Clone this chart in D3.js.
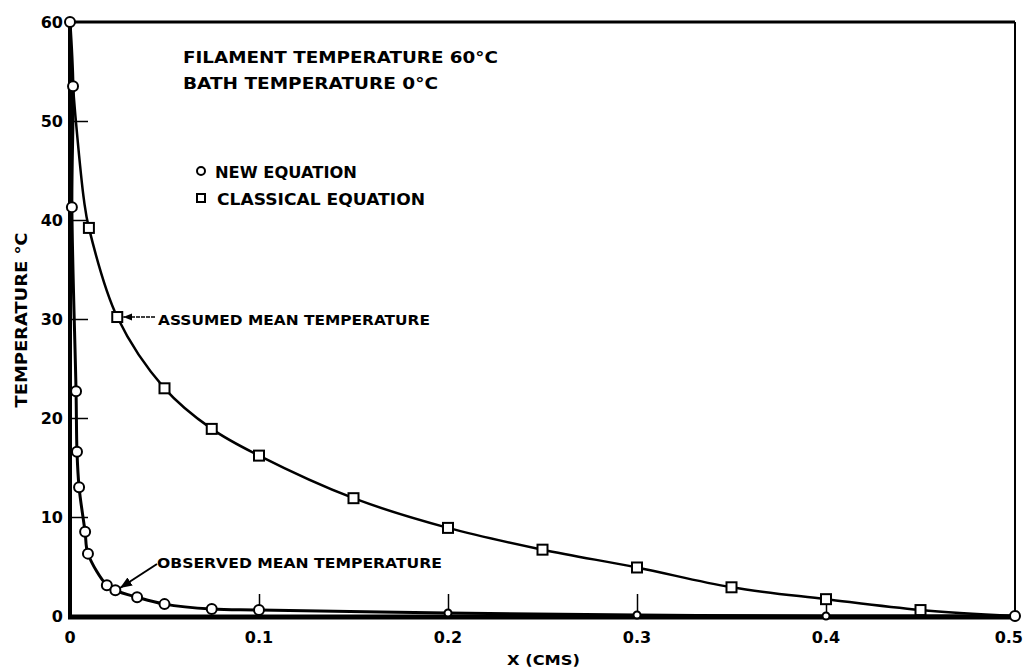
<!DOCTYPE html>
<html>
<head>
<meta charset="utf-8">
<script src="https://cdn.jsdelivr.net/npm/d3@7"></script>
<style>
  body { margin: 0; background: #fff; }
  text { font-family: "DejaVu Sans", "Liberation Sans", sans-serif; font-weight: bold; fill: #000; }
</style>
</head>
<body>
<div id="chart"></div>
<script>
// Data
// new equation (circles)
var newX = [0, 0.0016, 0.001, 0.0032, 0.0037, 0.0048, 0.008, 0.0095, 0.0195, 0.024, 0.0355, 0.05, 0.075, 0.1, 0.2, 0.3, 0.4, 0.5];
var newT = [60, 53.5, 41.3, 22.7, 16.6, 13.0, 8.5, 6.3, 3.1, 2.6, 1.9, 1.2, 0.7, 0.6, 0.3, 0.1, 0, 0];

// classical equation (squares)
var classicalX = [0.01, 0.025, 0.05, 0.075, 0.1, 0.15, 0.2, 0.25, 0.3, 0.35, 0.4, 0.45];
var classicalT = [39.2, 30.2, 23.0, 18.9, 16.2, 11.9, 8.9, 6.7, 4.9, 2.9, 1.7, 0.6];
// curve ends without a marker
var classicalLeadX = [0.0016, 0.0032, 0.0074];
var classicalLeadT = [53.5, 49.8, 42.0];
var classicalEndX = [0.5];
var classicalEndT = [0];

var xTicks = [0.1, 0.2, 0.3, 0.4];
var xTickLabels = ["0.1", "0.2", "0.3", "0.4", "0.5"];
var yTicks = [10, 20, 30, 40, 50];
var yTickLabels = ["0", "10", "20", "30", "40", "50", "60"];

var svgWidth = 1024;
var svgHeight = 670;

var svg = d3.select("#chart")
  .append("svg")
  .attr("width", svgWidth)
  .attr("height", svgHeight);

// scales: origin at (70, 616), x=0.5 at 1015, T=60 at 22
var x = d3.scaleLinear().domain([0, 0.5]).range([70, 1015]);
var y = d3.scaleLinear().domain([0, 60]).range([616, 22]);

// frame: thick left and bottom, lighter top and right
svg.append("line")
  .attr("x1", x(0)).attr("x2", x(0.5))
  .attr("y1", y(60)).attr("y2", y(60))
  .attr("stroke", "#000").attr("stroke-width", 3);
svg.append("line")
  .attr("x1", x(0.5)).attr("x2", x(0.5))
  .attr("y1", y(60)).attr("y2", y(0))
  .attr("stroke", "#000").attr("stroke-width", 2);

// inner ticks (y axis) and upward ticks (x axis)
var leftAxis = d3.axisRight(y).tickValues(yTicks).tickSize(18).tickFormat("");
svg.append("g")
  .attr("transform", `translate(${x(0)},0)`)
  .call(leftAxis)
  .call(g => g.select(".domain").remove())
  .call(g => g.selectAll(".tick line").attr("stroke-width", 1.5));

var bottomAxis = d3.axisTop(x).tickValues(xTicks).tickSize(22).tickFormat("");
svg.append("g")
  .attr("transform", `translate(0,${y(0)})`)
  .call(bottomAxis)
  .call(g => g.select(".domain").remove())
  .call(g => g.selectAll(".tick line").attr("stroke-width", 1.5));

svg.append("line")
  .attr("x1", x(0)).attr("x2", x(0))
  .attr("y1", y(60) - 1).attr("y2", y(0) + 2)
  .attr("stroke", "#000").attr("stroke-width", 4);
svg.append("line")
  .attr("x1", x(0) - 2).attr("x2", x(0.5))
  .attr("y1", y(0) + 1).attr("y2", y(0) + 1)
  .attr("stroke", "#000").attr("stroke-width", 5);

// tick labels
var yLabelVals = [0, 10, 20, 30, 40, 50, 60];
svg.selectAll(".ylab")
  .data(yLabelVals)
  .enter()
  .append("text")
  .attr("class", "ylab")
  .attr("x", 63)
  .attr("y", d => y(d) + 6)
  .attr("text-anchor", "end")
  .attr("font-size", "16px")
  .text((d, i) => yTickLabels[i]);

var xLabelVals = [0, 0.1, 0.2, 0.3, 0.4, 0.5];
svg.selectAll(".xlab")
  .data(xLabelVals)
  .enter()
  .append("text")
  .attr("class", "xlab")
  .attr("x", d => d === 0.5 ? 1023 : x(d))
  .attr("y", 643)
  .attr("text-anchor", d => d === 0.5 ? "end" : "middle")
  .attr("font-size", "16px")
  .text((d, i) => i === 0 ? "0" : xTickLabels[i - 1]);

// axis titles
svg.append("text")
  .attr("transform", "translate(27,320) rotate(-90)")
  .attr("text-anchor", "middle")
  .attr("font-size", "15px")
  .attr("textLength", 175)
  .attr("lengthAdjust", "spacingAndGlyphs")
  .text("TEMPERATURE °C");

svg.append("text")
  .attr("x", 507)
  .attr("y", 665)
  .attr("font-size", "14px")
  .attr("textLength", 73)
  .attr("lengthAdjust", "spacingAndGlyphs")
  .text("X (CMS)");

// curves
var line = d3.line()
  .x(d => x(d[0]))
  .y(d => y(d[1]))
  .curve(d3.curveCatmullRom.alpha(0.5));

var newData = newX.map((d, i) => [d, newT[i]]);
var classicalData = classicalX.map((d, i) => [d, classicalT[i]]);
var classicalLine = classicalLeadX.map((d, i) => [d, classicalLeadT[i]])
  .concat(classicalData)
  .concat(classicalEndX.map((d, i) => [d, classicalEndT[i]]));

svg.append("path")
  .datum(classicalLine)
  .attr("d", line)
  .attr("fill", "none")
  .attr("stroke", "#000")
  .attr("stroke-width", 2.5);

svg.append("path")
  .datum(newData)
  .attr("d", line)
  .attr("fill", "none")
  .attr("stroke", "#000")
  .attr("stroke-width", 3);

// markers
svg.selectAll(".sq")
  .data(classicalData)
  .enter()
  .append("rect")
  .attr("class", "sq")
  .attr("x", d => x(d[0]) - 5)
  .attr("y", d => y(d[1]) - 5)
  .attr("width", 10)
  .attr("height", 10)
  .attr("fill", "#fff")
  .attr("stroke", "#000")
  .attr("stroke-width", 2);

svg.selectAll(".dot")
  .data(newData)
  .enter()
  .append("circle")
  .attr("class", "dot")
  .attr("cx", d => x(d[0]))
  .attr("cy", d => y(d[1]))
  .attr("r", (d, i) => (i >= 14 && i <= 16) ? 3.5 : 5)
  .attr("fill", "#fff")
  .attr("stroke", "#000")
  .attr("stroke-width", 2);

// notes
svg.append("text")
  .attr("x", 183).attr("y", 63)
  .attr("font-size", "15px")
  .attr("textLength", 315)
  .attr("lengthAdjust", "spacingAndGlyphs")
  .text("FILAMENT TEMPERATURE 60°C");

svg.append("text")
  .attr("x", 183).attr("y", 89)
  .attr("font-size", "15px")
  .attr("textLength", 255)
  .attr("lengthAdjust", "spacingAndGlyphs")
  .text("BATH TEMPERATURE 0°C");

// legend
svg.append("circle")
  .attr("cx", 201).attr("cy", 171).attr("r", 4)
  .attr("fill", "#fff").attr("stroke", "#000").attr("stroke-width", 2);
svg.append("text")
  .attr("x", 215).attr("y", 178)
  .attr("font-size", "15px")
  .attr("textLength", 142)
  .attr("lengthAdjust", "spacingAndGlyphs")
  .text("NEW EQUATION");

svg.append("rect")
  .attr("x", 197).attr("y", 194).attr("width", 8).attr("height", 8)
  .attr("fill", "#fff").attr("stroke", "#000").attr("stroke-width", 2);
svg.append("text")
  .attr("x", 217).attr("y", 205)
  .attr("font-size", "15px")
  .attr("textLength", 208)
  .attr("lengthAdjust", "spacingAndGlyphs")
  .text("CLASSICAL EQUATION");

// annotation arrows
svg.append("defs").append("marker")
  .attr("id", "head")
  .attr("viewBox", "0 0 10 10")
  .attr("refX", 10).attr("refY", 5)
  .attr("markerWidth", 6).attr("markerHeight", 6)
  .attr("orient", "auto")
  .append("path")
  .attr("d", "M0,1 L10,5 L0,9 Z")
  .attr("fill", "#000");

svg.append("line")
  .attr("x1", 155).attr("y1", y(30.2))
  .attr("x2", x(0.025) + 6).attr("y2", y(30.2))
  .attr("stroke", "#000").attr("stroke-width", 1.5)
  .attr("stroke-dasharray", "4,1")
  .attr("marker-end", "url(#head)");

svg.append("text")
  .attr("x", 158).attr("y", 325)
  .attr("font-size", "14px")
  .attr("textLength", 272)
  .attr("lengthAdjust", "spacingAndGlyphs")
  .text("ASSUMED MEAN TEMPERATURE");

svg.append("line")
  .attr("x1", 157).attr("y1", 564)
  .attr("x2", 120).attr("y2", 588)
  .attr("stroke", "#000").attr("stroke-width", 2)
  .attr("marker-end", "url(#head)");

svg.append("text")
  .attr("x", 157).attr("y", 568)
  .attr("font-size", "14px")
  .attr("textLength", 285)
  .attr("lengthAdjust", "spacingAndGlyphs")
  .text("OBSERVED MEAN TEMPERATURE");
</script>
</body>
</html>
